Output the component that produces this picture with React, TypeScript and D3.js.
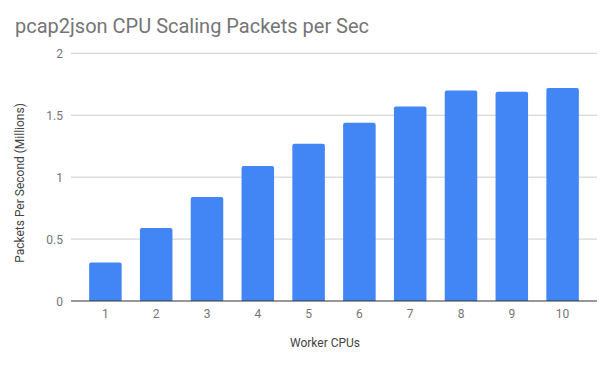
import React from "react";
import * as d3 from "d3";

const categories = ["1", "2", "3", "4", "5", "6", "7", "8", "9", "10"];
const values = [0.31, 0.59, 0.84, 1.09, 1.27, 1.44, 1.57, 1.7, 1.69, 1.72];
const yTicks = [0, 0.5, 1, 1.5, 2];
const yTickLabels = ["0", "0.5", "1", "1.5", "2"];

const W = 611;
const H = 366;
const FONT = "Roboto, 'Noto Sans', sans-serif";

export default function App() {
  const x = d3
    .scaleBand<string>()
    .domain(categories)
    .range([80, 588])
    .paddingInner(0.36)
    .paddingOuter(0.18);
  const y = d3.scaleLinear().domain([0, 2]).range([301, 53.3]);
  const gridX0 = 71;
  const gridX1 = 597;
  const r = 2;

  const barPath = (x0: number, w: number, yTop: number, yBot: number) =>
    `M${x0},${yBot}V${yTop + r}Q${x0},${yTop} ${x0 + r},${yTop}H${x0 + w - r}Q${x0 + w},${yTop} ${x0 + w},${yTop + r}V${yBot}Z`;

  return (
    <svg width={W} height={H} style={{ position: "absolute", left: 0, top: 0, background: "#fff" }}>
      <rect width={W} height={H} fill="#fff" />
      <text x={15} y={33} fontFamily={FONT} fontSize={20} fill="#757575">
        pcap2json CPU Scaling Packets per Sec
      </text>
      {yTicks.map((t, i) => (
        <g key={t}>
          {t !== 0 && (
            <line x1={gridX0} x2={gridX1} y1={y(t)} y2={y(t)} stroke="#cccccc" strokeWidth={1} />
          )}
          <text
            x={63}
            y={y(t) + 4.5}
            textAnchor="end"
            fontFamily={FONT}
            fontSize={12}
            fill="#757575"
          >
            {yTickLabels[i]}
          </text>
        </g>
      ))}
      {categories.map((c, i) => {
        const x0 = x(c)!;
        return (
          <path key={c} d={barPath(x0, x.bandwidth(), y(values[i]), y(0))} fill="#4285f4" />
        );
      })}
      <line x1={gridX0} x2={gridX1} y1={y(0)} y2={y(0)} stroke="#333333" strokeWidth={1.2} />
      {categories.map((c) => (
        <text
          key={c}
          x={x(c)! + x.bandwidth() / 2}
          y={318}
          textAnchor="middle"
          fontFamily={FONT}
          fontSize={12}
          fill="#757575"
        >
          {c}
        </text>
      ))}
      <text x={325} y={347} textAnchor="middle" fontFamily={FONT} fontSize={12} fill="#444">
        Worker CPUs
      </text>
      <text
        transform={`translate(24, 183) rotate(-90)`}
        textAnchor="middle"
        fontFamily={FONT}
        fontSize={12}
        fill="#444"
      >
        Packets Per Second (Millions)
      </text>
    </svg>
  );
}
